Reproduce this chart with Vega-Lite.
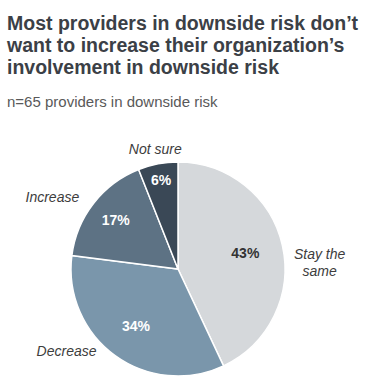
{
  "$schema": "https://vega.github.io/schema/vega-lite/v6.json",
  "width": 342,
  "height": 238,
  "autosize": {"type": "none"},
  "padding": {"left": 7, "top": 150, "right": 26, "bottom": 0},
  "background": "white",
  "view": {"stroke": null},
  "title": {
    "text": ["Most providers in downside risk don’t", "want to increase their organization’s", "involvement in downside risk"],
    "subtitle": "n=65 providers in downside risk",
    "anchor": "start",
    "frame": "group",
    "offset": 10,
    "font": "Liberation Sans",
    "fontSize": 19.5,
    "fontWeight": "bold",
    "color": "#3b4046",
    "lineHeight": 22,
    "subtitleFont": "Liberation Sans",
    "subtitleFontSize": 15,
    "subtitleColor": "#595959",
    "subtitlePadding": 17
  },
  "data": {
    "values": [
      {"answer": "Stay the same", "value": 43, "label": "43%"},
      {"answer": "Decrease", "value": 34, "label": "34%"},
      {"answer": "Increase", "value": 17, "label": "17%"},
      {"answer": "Not sure", "value": 6, "label": "6%"}
    ]
  },
  "encoding": {
    "theta": {"field": "value", "type": "quantitative", "stack": true},
    "order": {"field": "value", "type": "quantitative", "sort": "descending"}
  },
  "layer": [
    {
      "mark": {"type": "arc", "radius": 107, "stroke": "white", "strokeWidth": 1.5},
      "encoding": {
        "color": {
          "field": "answer",
          "type": "nominal",
          "scale": {
            "domain": ["Stay the same", "Decrease", "Increase", "Not sure"],
            "range": ["#d5d8db", "#7a96ab", "#5d7284", "#3a4856"]
          },
          "legend": null
        }
      }
    },
    {
      "mark": {"type": "text", "font": "Liberation Sans", "fontSize": 14, "fontWeight": "bold", "baseline": "middle", "align": "center"},
      "encoding": {
        "text": {"field": "label"},
        "radius": {"field": "value", "type": "quantitative", "scale": {"type": "log", "domain": [6, 43], "range": [90, 69]}},
        "color": {"condition": {"test": "datum.answer === 'Stay the same'", "value": "#333333"}, "value": "white"}
      }
    },
    {
      "mark": {"type": "text", "font": "Liberation Sans", "fontSize": 14, "fontStyle": "italic", "color": "#3d3d3d", "baseline": "middle", "align": "center", "radius": 121},
      "encoding": {
        "text": {"condition": {"test": "datum.answer === 'Not sure'", "field": "answer"}, "value": ""}
      }
    },
    {
      "mark": {"type": "text", "font": "Liberation Sans", "fontSize": 14, "fontStyle": "italic", "color": "#3d3d3d", "baseline": "middle", "align": "center", "radius": 140, "dx": -15, "dy": 15},
      "encoding": {
        "text": {"condition": {"test": "datum.answer === 'Increase'", "field": "answer"}, "value": ""}
      }
    },
    {
      "mark": {"type": "text", "font": "Liberation Sans", "fontSize": 14, "fontStyle": "italic", "color": "#3d3d3d", "baseline": "middle", "align": "center", "radius": 125, "dx": -38, "dy": -18},
      "encoding": {
        "text": {"condition": {"test": "datum.answer === 'Decrease'", "field": "answer"}, "value": ""}
      }
    },
    {
      "mark": {"type": "text", "font": "Liberation Sans", "fontSize": 14, "fontStyle": "italic", "color": "#3d3d3d", "baseline": "middle", "align": "center", "radius": 140, "dx": 5, "dy": 17, "lineHeight": 17},
      "encoding": {
        "text": {"condition": {"test": "datum.answer === 'Stay the same'", "value": ["Stay the", "same"]}, "value": ""}
      }
    }
  ]
}
